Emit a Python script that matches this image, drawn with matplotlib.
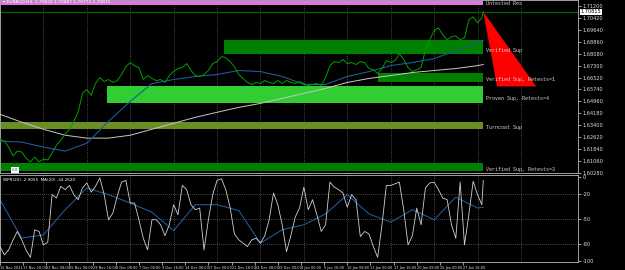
import numpy as np
import matplotlib
matplotlib.use("Agg")
import matplotlib.pyplot as plt
import matplotlib.transforms as mtransforms

# --- 1. Data ---
# H4 closes, one value every 3 bars, last one is the live bar
close_bars = list(range(0, 334, 3)) + [334]
close_prices = [
    1.6249, 1.6236, 1.6197, 1.6139, 1.6171, 1.6165, 1.6126, 1.6100, 1.6132, 1.6100,
    1.6119, 1.6113, 1.6158, 1.6210, 1.6243, 1.6282, 1.6314, 1.6366, 1.6425, 1.6548,
    1.6574, 1.6535, 1.6613, 1.6652, 1.6626, 1.6639, 1.6620, 1.6632, 1.6672, 1.6724,
    1.6750, 1.6730, 1.6717, 1.6639, 1.6665, 1.6646, 1.6632, 1.6639, 1.6620, 1.6665,
    1.6691, 1.6711, 1.6717, 1.6743, 1.6698, 1.6665, 1.6659, 1.6672, 1.6698, 1.6743,
    1.6756, 1.6789, 1.6782, 1.6756, 1.6724, 1.6672, 1.6646, 1.6620, 1.6607, 1.6620,
    1.6613, 1.6633, 1.6620, 1.6613, 1.6633, 1.6613, 1.6633, 1.6620, 1.6613, 1.6626,
    1.6613, 1.6600, 1.6607, 1.6613, 1.6600, 1.6652, 1.6730, 1.6756, 1.6750, 1.6770,
    1.6743, 1.6750, 1.6737, 1.6756, 1.6750, 1.6711, 1.6704, 1.6678, 1.6711, 1.6763,
    1.6750, 1.6763, 1.6808, 1.6770, 1.6717, 1.6691, 1.6704, 1.6717, 1.6834, 1.6899,
    1.6958, 1.6977, 1.6932, 1.6899, 1.6919, 1.6925, 1.6899, 1.6912, 1.7029, 1.7049,
    1.7010, 1.7042, 1.70815,
]

# moving averages, one value every 15 bars
ma_bars = list(range(0, 331, 15)) + [334]
ma_fast = [1.6236, 1.6230, 1.6197, 1.6171, 1.6223, 1.6366, 1.6496, 1.6613, 1.6639, 1.6659,
           1.6672, 1.6698, 1.6691, 1.6659, 1.6607, 1.6607, 1.6659, 1.6691, 1.6730, 1.6750,
           1.6776, 1.6828, 1.6880, 1.6893]
ma_slow = [1.6412, 1.6360, 1.6314, 1.6275, 1.6256, 1.6256, 1.6275, 1.6314, 1.6353, 1.6392,
           1.6425, 1.6457, 1.6483, 1.6516, 1.6548, 1.6581, 1.6620, 1.6646, 1.6665, 1.6685,
           1.6698, 1.6711, 1.6730, 1.6737]

# Williams %R and its MA
wpr_values = [
    -83, -93, -87, -75, -65, -75, -87, -96, -63, -65,
    -81, -78, -21, -25, -11, -15, -10, -21, -27, -13,
    -7, -18, -11, -1, -21, -51, -43, -23, -6, -4,
    -31, -31, -51, -73, -87, -51, -51, -57, -70, -57,
    -33, -45, -10, -15, -33, -39, -37, -87, -51, -21,
    -4, -2, -15, -36, -68, -75, -79, -83, -75, -73,
    -79, -70, -51, -19, -33, -57, -89, -70, -48, -37,
    -12, -39, -27, -45, -65, -57, -6, -12, -15, -19,
    -36, -21, -27, -71, -65, -68, -83, -96, -57, -10,
    -10, -8, -6, -39, -81, -70, -37, -57, -13, -7,
    -6, -15, -25, -27, -57, -73, -6, -81, -45, -5,
    -21, -33, -4,
]
wpr_ma = [-27, -73, -69, -39, -13, -21, -31, -42, -64, -33, -33, -40,
          -79, -63, -57, -44, -21, -44, -54, -39, -51, -24, -37, -36]

# supply / demand zones
zone_names = ["Untested Res", "Verified Sup", "Verified Sup, Retests=1",
              "Proven Sup, Retests=4", "Turncoat Sup", "Verified Sup, Retests=3"]
zone_start = [0, 155, 261, 74, 0, 0]
zone_top = [1.7159, 1.6899, 1.6685, 1.6600, 1.6360, 1.6093]
zone_bottom = [1.7127, 1.6808, 1.6626, 1.6483, 1.6314, 1.6041]
zone_colors = ["#dd77dd", "#008000", "#008000", "#32cd32", "#6b8e23", "#008000"]
zone_end = 334

# red arrow/triangle object
tri_bars = [334, 343.5, 370.5]
tri_prices = [1.70815, 1.6594, 1.6594]

current_price = 1.70815
price_ticks = [1.71200, 1.70420, 1.69640, 1.68860, 1.68080, 1.67300, 1.66520, 1.65740,
               1.64960, 1.64180, 1.63400, 1.62620, 1.61840, 1.61060, 1.60280]
wpr_ticks = [0, -20, -50, -80, -100]

time_labels = ["15 Nov 2021", "17 Nov 16:00", "22 Nov 08:00", "25 Nov 00:00", "29 Nov 16:00",
               "2 Dec 08:00", "7 Dec 00:00", "9 Dec 16:00", "14 Dec 08:00", "17 Dec 00:00",
               "21 Dec 16:00", "24 Dec 08:00", "29 Dec 00:00", "3 Jan 00:00", "5 Jan 16:00",
               "10 Jan 08:00", "13 Jan 00:00", "17 Jan 16:00", "20 Jan 08:00", "25 Jan 00:00",
               "27 Jan 16:00"]

# --- 2. Setup ---
BG = "black"
GRID = "#8a8a8a"
TXT = "#e0e0e0"
XMAX = 578 / 1.447

fig = plt.figure(figsize=(6.25, 2.7), dpi=100, facecolor=BG)
ax1 = fig.add_axes([0.0, 1 - 173 / 270, 578 / 625, 173 / 270], facecolor=BG)
ax2 = fig.add_axes([0.0, 8 / 270, 578 / 625, 87 / 270], facecolor=BG)

for ax in (ax1, ax2):
    ax.set_xlim(0, XMAX)
    for s in ax.spines.values():
        s.set_color("#a0a0a0")
        s.set_linewidth(0.7)
    ax.yaxis.tick_right()
    ax.tick_params(axis="y", colors=TXT, labelsize=3.6, length=2, width=0.5, pad=1.5)
    # weekly dotted grid
    for b in range(30, 361, 30):
        ax.axvline(b, color=GRID, lw=0.5, ls=(0, (1, 2)), zorder=0)

# --- 3. Main price panel ---
ax1.set_ylim(1.60345, 1.7159)
ax1.set_xticks([])
ax1.set_yticks(price_ticks)
ax1.set_yticklabels([f"{p:.5f}" for p in price_ticks])

for name, s, t, b, c in zip(zone_names, zone_start, zone_top, zone_bottom, zone_colors):
    ax1.fill_between([s, zone_end], b, t, color=c, lw=0, zorder=1)
    ax1.text(zone_end + 2, b + 0.25 * (t - b), name, color="#d8d8d8", fontsize=3.6,
             family="Liberation Mono", va="center", ha="left", zorder=5)

ax1.fill(tri_bars, tri_prices, color="#ff0000", lw=0, zorder=2)
ax1.axhline(current_price, color="#006400", lw=0.9, zorder=2)

ax1.plot(ma_bars, ma_slow, color="#c8c8c8", lw=0.7, zorder=3)
ax1.plot(ma_bars, ma_fast, color="#1f5a96", lw=0.8, zorder=3)
ax1.plot(close_bars, close_prices, color="#00a000", lw=0.7, zorder=4)

ax1.text(2, 1.7143, "\u25be EURAUD,H4  1.70822 1.70887 1.70773 1.70815", color="white",
         fontsize=3.2, va="center", ha="left", zorder=6)
ax1.text(8, 1.6046, "8.8", color="#208080", fontsize=3.0, va="center", ha="left", zorder=6,
         bbox=dict(boxstyle="square,pad=0.25", fc="white", ec="none"))

trans = mtransforms.blended_transform_factory(ax1.transAxes, ax1.transData)
ax1.text(1.004, current_price, f"{current_price:.5f}", transform=trans, color="black",
         fontsize=3.6, va="center", ha="left", clip_on=False, zorder=7,
         bbox=dict(boxstyle="square,pad=0.15", fc="white", ec="none"))

# --- 4. Williams %R panel ---
ax2.set_ylim(-101.5, 2.5)
ax2.set_yticks(wpr_ticks)
ax2.set_yticklabels([str(v) for v in wpr_ticks])
for lvl in (-20, -50, -80):
    ax2.axhline(lvl, color=GRID, lw=0.5, ls=(0, (1, 2)), zorder=0)

ax2.plot(close_bars, wpr_values, color="#d0d0d0", lw=0.6, zorder=3)
ax2.plot(ma_bars, wpr_ma, color="#1f5a96", lw=0.8, zorder=2)
ax2.text(2, -3, "WPR(20) -2.9055  MA(20) -34.2620", color="white", fontsize=3.0,
         va="center", ha="left", zorder=6)

label_pos = list(range(0, 16 * len(time_labels), 16))
ax2.set_xticks(label_pos)
ax2.set_xticklabels(time_labels, ha="left")
ax2.tick_params(axis="x", colors=TXT, labelsize=2.5, length=2, width=0.5, pad=1)

fig.savefig("out.png", dpi=100, facecolor=BG)
